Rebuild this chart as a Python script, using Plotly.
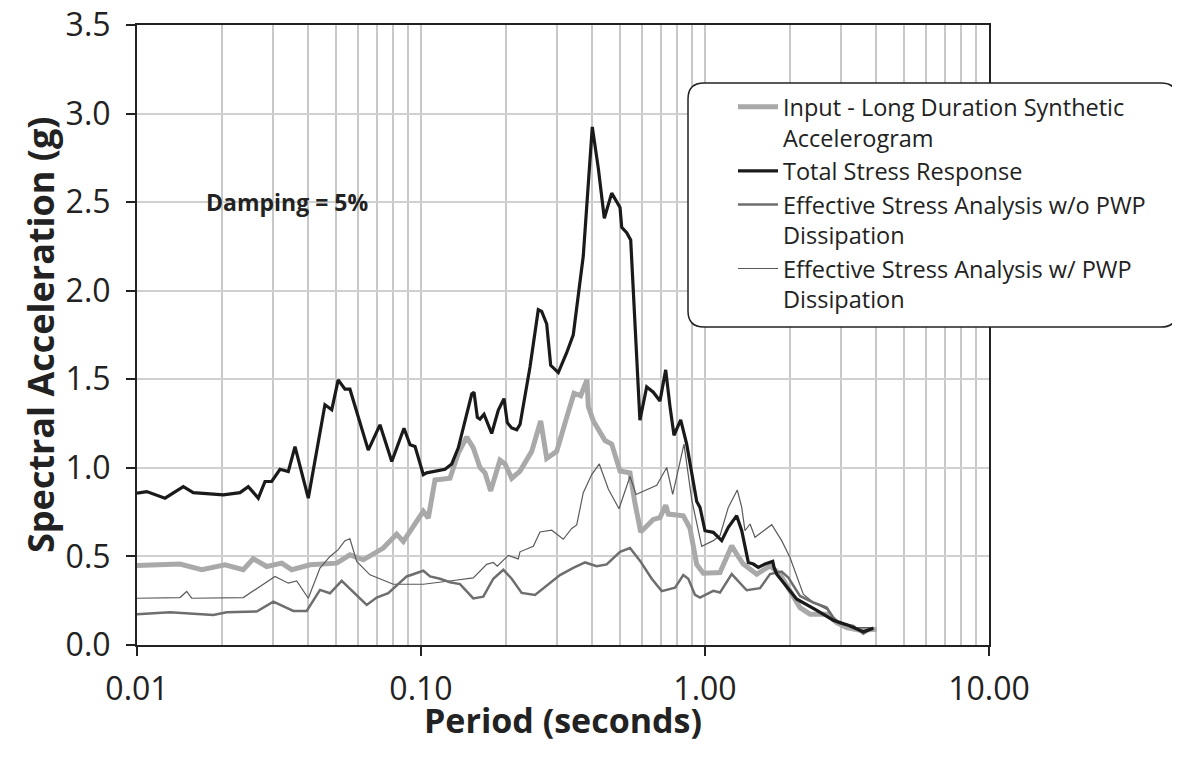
import plotly.graph_objects as go

# ---------------- data ----------------
total_T = [0.01, 0.01082, 0.01255, 0.01456, 0.01578, 0.02013, 0.02305, 0.02465, 0.02674, 0.02823,
           0.0298, 0.03188, 0.0341, 0.036, 0.0401, 0.0459, 0.0485, 0.0511, 0.054, 0.0562,
           0.0652, 0.0717, 0.0789, 0.0871, 0.0915, 0.0953, 0.1019, 0.1047, 0.1215, 0.1283,
           0.1353, 0.1429, 0.1509, 0.1537, 0.1579, 0.1613, 0.1667, 0.1703, 0.1774, 0.1872,
           0.196, 0.2013, 0.2086, 0.2173, 0.2232, 0.242, 0.2588, 0.266, 0.2771, 0.2862,
           0.3044, 0.3258, 0.3437, 0.3727, 0.401, 0.421, 0.442, 0.4694, 0.4887, 0.5021,
           0.509, 0.530, 0.5475, 0.590, 0.6233, 0.6577, 0.6942, 0.7271, 0.753, 0.7777,
           0.8211, 0.862, 0.935, 0.9603, 1.0, 1.0696, 1.145, 1.208, 1.293, 1.347,
           1.421, 1.479, 1.540, 1.627, 1.732, 1.750, 1.789, 2.10, 2.45, 2.83,
           3.155, 3.328, 3.609, 3.913]
total_SA = [0.857, 0.866, 0.829, 0.894, 0.86, 0.847, 0.86, 0.894, 0.829, 0.923,
            0.923, 0.992, 0.979, 1.12, 0.829, 1.356, 1.328, 1.497, 1.444, 1.444,
            1.10, 1.243, 1.036, 1.224, 1.13, 1.12, 0.962, 0.972, 0.992, 1.022,
            1.113, 1.265, 1.417, 1.427, 1.285, 1.275, 1.302, 1.265, 1.194, 1.326,
            1.391, 1.255, 1.225, 1.215, 1.245, 1.569, 1.893, 1.883, 1.812, 1.579,
            1.538, 1.65, 1.751, 2.196, 2.925, 2.692, 2.409, 2.551, 2.50, 2.47,
            2.358, 2.328, 2.287, 1.269, 1.457, 1.427, 1.377, 1.553, 1.346, 1.184,
            1.271, 1.134, 0.810, 0.777, 0.645, 0.636, 0.589, 0.664, 0.730, 0.645,
            0.466, 0.457, 0.438, 0.457, 0.472, 0.438, 0.40, 0.26, 0.20, 0.14,
            0.115, 0.10, 0.075, 0.095]

input_T = [0.01, 0.01417, 0.0169, 0.02041, 0.02367, 0.02567, 0.02862, 0.03232, 0.03505, 0.04066,
           0.05048, 0.0562, 0.06262, 0.07365, 0.08211, 0.08665, 0.1019, 0.1061, 0.112, 0.1265,
           0.1353, 0.1449, 0.1528, 0.1613, 0.168, 0.1759, 0.1897, 0.1976, 0.2086, 0.2232,
           0.2454, 0.2639, 0.2771, 0.3004, 0.3258, 0.3458, 0.3651, 0.3842, 0.3883, 0.4044,
           0.4445, 0.4694, 0.5021, 0.5444, 0.5669, 0.5937, 0.6577, 0.6942, 0.7271, 0.7428,
           0.8387, 0.8856, 0.935, 0.9863, 1.129, 1.242, 1.293, 1.364, 1.521, 1.694,
           1.837, 1.992, 2.16, 2.343, 2.683, 2.909, 3.155, 3.514, 4.023]
input_SA = [0.449, 0.457, 0.425, 0.453, 0.425, 0.487, 0.443, 0.462, 0.425, 0.453,
            0.462, 0.509, 0.481, 0.547, 0.626, 0.585, 0.755, 0.717, 0.931, 0.941,
            1.083, 1.174, 1.113, 1.002, 0.972, 0.870, 1.043, 1.022, 0.941, 0.982,
            1.093, 1.265, 1.053, 1.093, 1.285, 1.421, 1.407, 1.498, 1.346, 1.265,
            1.154, 1.134, 0.982, 0.972, 0.80, 0.638, 0.709, 0.719, 0.789, 0.739,
            0.729, 0.658, 0.455, 0.405, 0.409, 0.560, 0.513, 0.457, 0.40, 0.447,
            0.40, 0.306, 0.211, 0.174, 0.174, 0.126, 0.098, 0.083, 0.089]

wo_T = [0.01, 0.01307, 0.01857, 0.0207, 0.02639, 0.0302, 0.03551, 0.03958, 0.04409, 0.04781,
        0.05257, 0.05856, 0.06438, 0.06982, 0.0767, 0.08905, 0.1019, 0.1076, 0.1166, 0.1265,
        0.1372, 0.1528, 0.1657, 0.1797, 0.1949, 0.2086, 0.2262, 0.252, 0.2771, 0.3086,
        0.3437, 0.3781, 0.4157, 0.4507, 0.5021, 0.5444, 0.590, 0.6494, 0.7041, 0.7843,
        0.8387, 0.8734, 0.9222, 0.9603, 1.0696, 1.129, 1.242, 1.31, 1.402, 1.562,
        1.694, 1.862, 1.965, 2.16, 2.406, 2.683, 2.83, 2.988, 3.328, 3.609, 3.913]
wo_SA = [0.174, 0.185, 0.170, 0.185, 0.189, 0.245, 0.192, 0.192, 0.311, 0.292,
         0.362, 0.292, 0.226, 0.268, 0.292, 0.387, 0.419, 0.387, 0.374, 0.354,
         0.344, 0.263, 0.273, 0.374, 0.425, 0.374, 0.294, 0.283, 0.334, 0.395,
         0.435, 0.466, 0.445, 0.455, 0.526, 0.547, 0.476, 0.374, 0.304, 0.324,
         0.395, 0.374, 0.283, 0.268, 0.306, 0.296, 0.40, 0.362, 0.309, 0.321,
         0.40, 0.415, 0.381, 0.277, 0.240, 0.211, 0.155, 0.121, 0.108, 0.064, 0.098]

w_T = [0.01, 0.01417, 0.01496, 0.01558, 0.02367, 0.02784, 0.03062, 0.0341, 0.0365, 0.0401,
       0.04409, 0.04781, 0.0511, 0.054, 0.0562, 0.05937, 0.06613, 0.07991, 0.1019, 0.1299,
       0.1528, 0.1703, 0.1797, 0.1856, 0.2029, 0.22, 0.2232, 0.2486, 0.2624, 0.2886,
       0.317, 0.3394, 0.3534, 0.3727, 0.3991, 0.4245, 0.4566, 0.498, 0.5444, 0.5715,
       0.6318, 0.6762, 0.7332, 0.7698, 0.8433, 0.898, 0.9736, 1.0696, 1.129, 1.208,
       1.2993, 1.347, 1.383, 1.441, 1.50, 1.605, 1.718, 1.862, 1.992, 2.219,
       2.406, 2.683, 2.909, 3.328, 3.913]
w_SA = [0.264, 0.268, 0.302, 0.264, 0.268, 0.340, 0.387, 0.349, 0.362, 0.264,
        0.434, 0.50, 0.538, 0.589, 0.60, 0.472, 0.396, 0.343, 0.343, 0.364,
        0.379, 0.455, 0.466, 0.445, 0.506, 0.486, 0.526, 0.557, 0.638, 0.648,
        0.597, 0.658, 0.678, 0.860, 0.962, 1.022, 0.881, 0.769, 0.951, 0.850,
        0.881, 0.901, 1.002, 0.850, 1.134, 0.820, 0.557, 0.589, 0.617, 0.777,
        0.875, 0.777, 0.645, 0.683, 0.608, 0.645, 0.679, 0.589, 0.494, 0.287,
        0.240, 0.202, 0.126, 0.098, 0.098]

x_tickvals = [0.01, 0.1, 1, 10]
x_ticktext = ["0.01", "0.10", "1.00", "10.00"]
x_minor = [m * d for d in (0.01, 0.1, 1) for m in range(2, 10)]
y_tickvals = [0.0, 0.5, 1.0, 1.5, 2.0, 2.5, 3.0, 3.5]

names = ["Input - Long Duration Synthetic<br>Accelerogram",
         "Total Stress Response",
         "Effective Stress Analysis w/o PWP<br>Dissipation",
         "Effective Stress Analysis w/ PWP<br>Dissipation"]

FONT = "Open Sans"

fig = go.Figure()
fig.add_trace(go.Scatter(x=input_T, y=input_SA, mode="lines", name=names[0], legendrank=1,
                         line=dict(color="#a9a9a9", width=5)))
fig.add_trace(go.Scatter(x=w_T, y=w_SA, mode="lines", name=names[3], legendrank=4,
                         line=dict(color="#5a5a5a", width=1.2)))
fig.add_trace(go.Scatter(x=wo_T, y=wo_SA, mode="lines", name=names[2], legendrank=3,
                         line=dict(color="#6e6e6e", width=2.5)))
fig.add_trace(go.Scatter(x=total_T, y=total_SA, mode="lines", name=names[1], legendrank=2,
                         line=dict(color="#1a1a1a", width=3.2)))

# plot-area edges in screenshot pixels; the page body adds an 8px offset
OFF = 8
L, R, T, B = 137, 989, 25, 645
W, H = R - L, B - T
def px(xp): return (xp - L) / W
def py(yp): return (B - yp) / H
x0, x1, y0, y1 = px(688), px(1177), py(327), py(83)
rx, ry = 16 / W, 16 / H
path = (f"M{x0+rx},{y1} L{x1-rx},{y1} Q{x1},{y1} {x1},{y1-ry} L{x1},{y0+ry} "
        f"Q{x1},{y0} {x1-rx},{y0} L{x0+rx},{y0} Q{x0},{y0} {x0},{y0+ry} "
        f"L{x0},{y1-ry} Q{x0},{y1} {x0+rx},{y1} Z")
fig.add_shape(type="path", path=path, xref="paper", yref="paper",
              line=dict(color="#222222", width=1.5), fillcolor="white", layer="above")

fig.add_annotation(x=-1.764, y=2.503, xref="x", yref="y", text="<b>Damping = 5%</b>",
                   showarrow=False, xanchor="left", yanchor="middle",
                   font=dict(family=FONT, size=23, color="#222222"))

# axis titles
fig.add_annotation(x=0.5, y=py(720), xref="paper", yref="paper",
                   text="<b>Period (seconds)</b>", showarrow=False,
                   xanchor="center", yanchor="middle",
                   font=dict(family=FONT, size=34, color="#222222"))
fig.add_annotation(x=px(40), y=0.5, xref="paper", yref="paper",
                   text="<b>Spectral Acceleration (g)</b>", showarrow=False, textangle=-90,
                   xanchor="center", yanchor="middle",
                   font=dict(family=FONT, size=36, color="#222222"))

fig.update_xaxes(type="log", range=[-2, 1], tickvals=x_tickvals, ticktext=x_ticktext,
                 automargin=False,
                 showgrid=True, gridcolor="#c8c8c8", gridwidth=1.5,
                 minor=dict(tickmode="array", tickvals=x_minor, showgrid=True,
                            gridcolor="#c8c8c8", gridwidth=1.5, ticks=""),
                 showline=True, linecolor="#222222", linewidth=2, mirror=True,
                 ticks="outside", ticklen=9, tickwidth=2, tickcolor="#222222",
                 tickfont=dict(family=FONT, size=32, color="#222222"),
                 ticklabelstandoff=6, ticklabeloverflow="allow", zeroline=False)
fig.update_yaxes(range=[0, 3.5], tickvals=y_tickvals, tickformat=".1f",
                 automargin=False,
                 showgrid=True, gridcolor="#d0d0d0", gridwidth=1.5,
                 showline=True, linecolor="#222222", linewidth=2, mirror=True,
                 ticks="outside", ticklen=9, tickwidth=2, tickcolor="#222222",
                 tickfont=dict(family=FONT, size=32, color="#222222"),
                 ticklabelstandoff=9, ticklabeloverflow="allow", zeroline=False)

fig.update_layout(
    width=1180, height=761,
    margin=dict(l=L - OFF, r=1180 - R + OFF, t=T - OFF, b=761 - B + OFF, autoexpand=False),
    paper_bgcolor="white", plot_bgcolor="white",
    font=dict(family=FONT, color="#222222"),
    showlegend=True,
    legend=dict(x=px(733), y=py(85), xanchor="left", yanchor="top",
                bgcolor="rgba(0,0,0,0)", borderwidth=0, valign="top",
                font=dict(family=FONT, size=23.5, color="#222222"),
                tracegroupgap=0, itemwidth=40),
)

fig.write_html("out.html")
